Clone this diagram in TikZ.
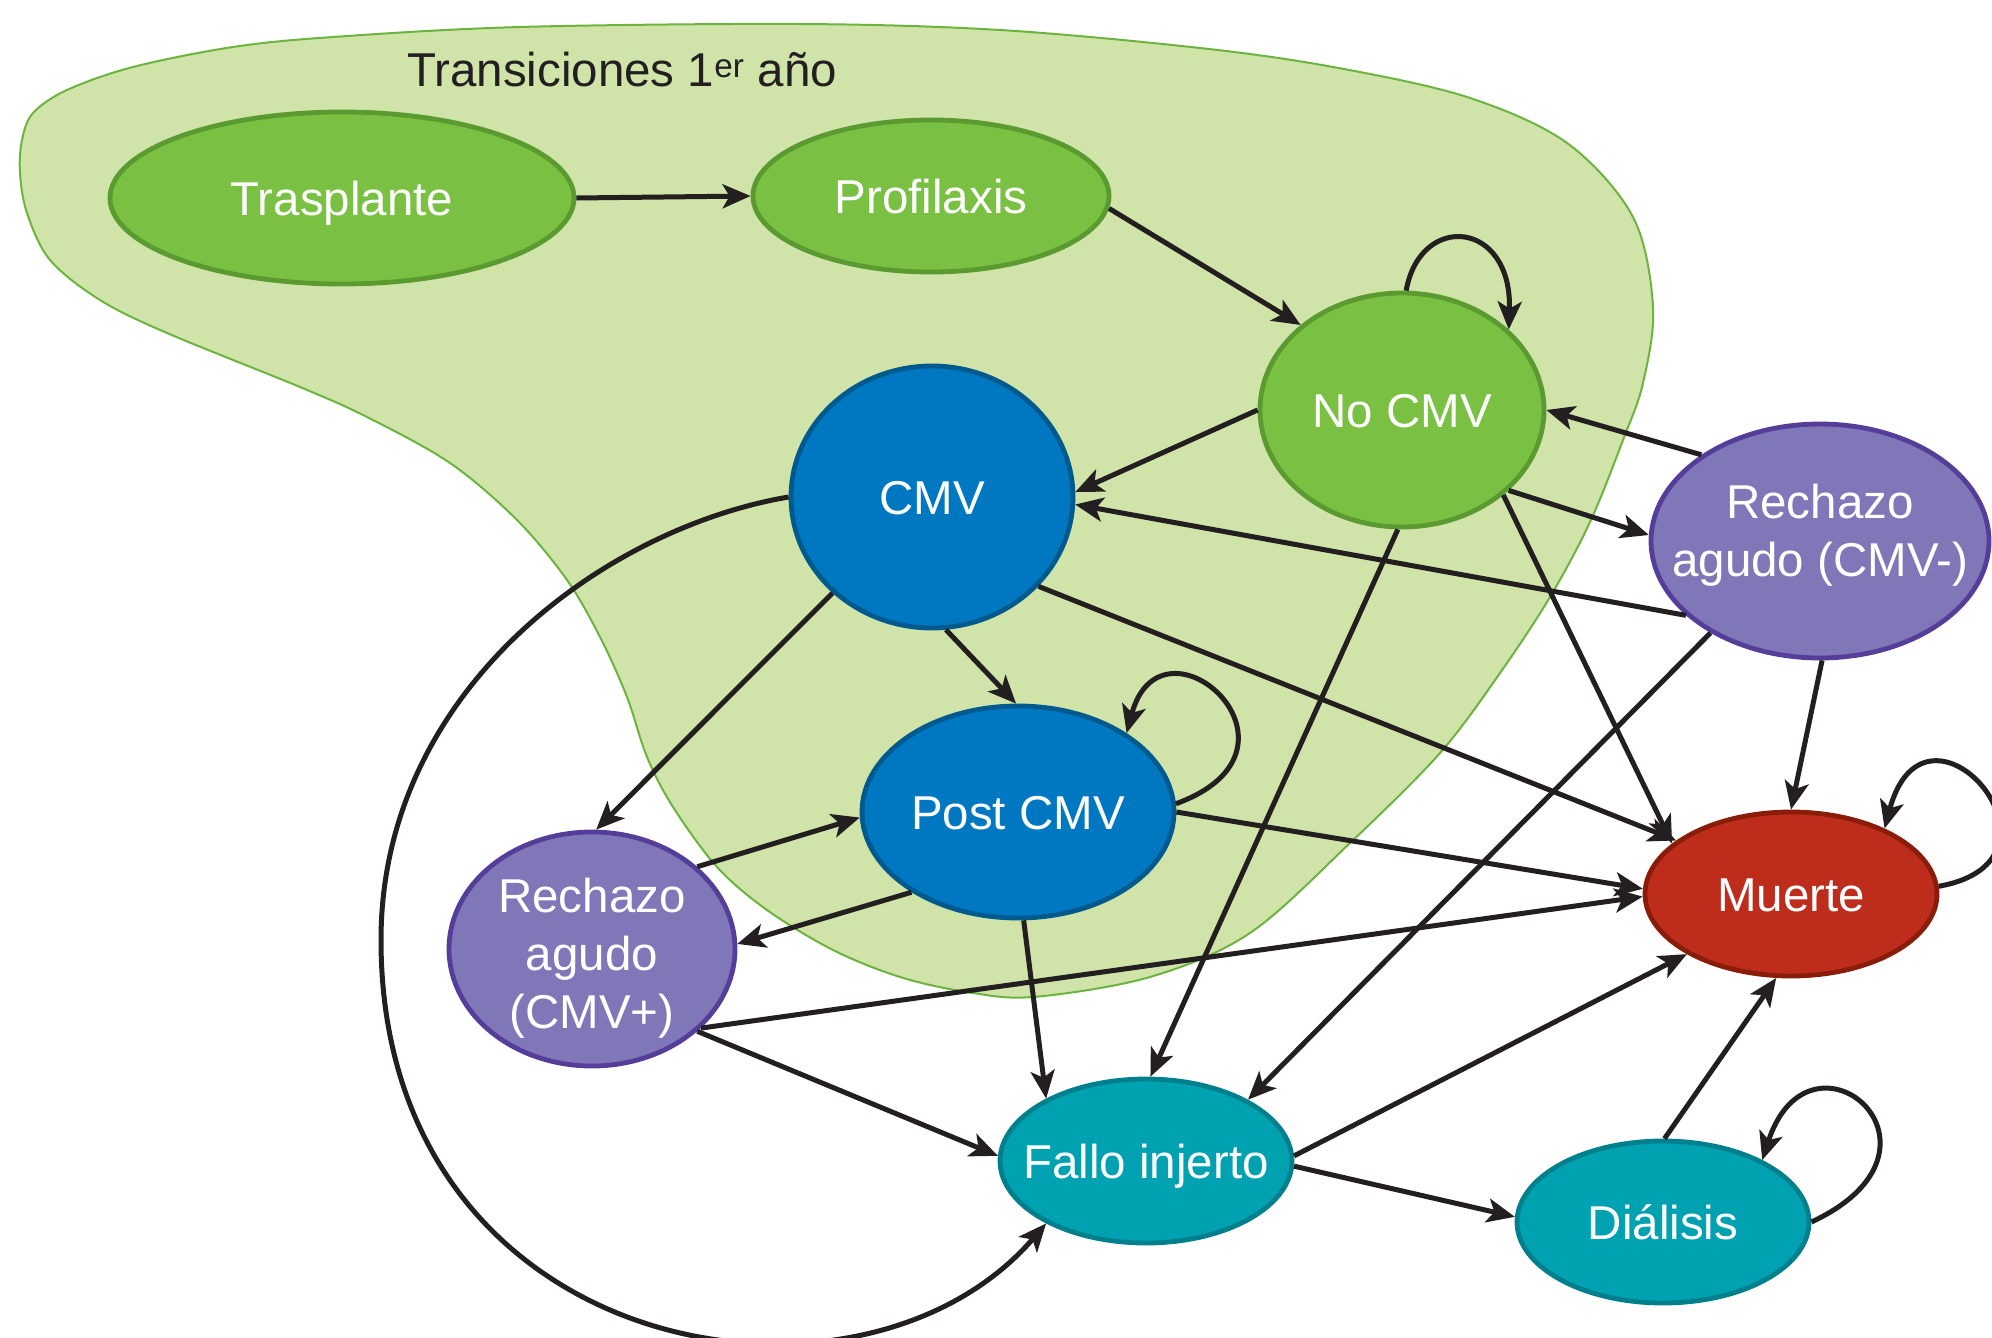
\documentclass[tikz,border=0pt]{standalone}
\usepackage{fontspec}
\setmainfont{Liberation Sans}
\usetikzlibrary{arrows.meta,shapes.geometric}
\definecolor{blobfill}{HTML}{D0E3A8}
\definecolor{blobline}{HTML}{6DB33F}
\definecolor{gfill}{HTML}{7AC143}
\definecolor{gline}{HTML}{5A9A30}
\definecolor{bfill}{HTML}{0078C1}
\definecolor{bline}{HTML}{005A8E}
\definecolor{pfill}{HTML}{7F77B7}
\definecolor{pline}{HTML}{553E99}
\definecolor{rfill}{HTML}{BE2D1B}
\definecolor{rline}{HTML}{8A1C0A}
\definecolor{tfill}{HTML}{00A1B0}
\definecolor{tline}{HTML}{00808C}
\definecolor{ink}{HTML}{231F20}
\begin{document}
\begin{tikzpicture}[x=1pt,y=-1pt,
  st/.style={ellipse, line width=4.8pt, inner sep=0pt},
  gst/.style={st, fill=gfill, draw=gline},
  bst/.style={st, fill=bfill, draw=bline},
  pst/.style={st, fill=pfill, draw=pline},
  rst/.style={st, fill=rfill, draw=rline},
  tst/.style={st, fill=tfill, draw=tline},
  lbl/.style={text=white, font=\fontsize{47.5}{58}\selectfont, inner sep=0pt, align=center},
  one/.style={lbl, text height=34pt, text depth=0pt},
  arr/.style={draw=ink, line width=5pt, -{Stealth[length=28pt,width=24pt,inset=7pt]}},
  blob/.style={fill=blobfill, draw=blobline, line width=2pt}
]
\useasboundingbox (0,0) rectangle (1992,1338);
\clip (0,0) rectangle (1992,1338);

% background region
\draw[blob] plot[smooth cycle, tension=0.55] coordinates {
 (22,140) (33,113) (67,90) (133,67) (233,47) (333,37) (520,27) (800,24) (1000,30)
 (1200,48) (1333,67) (1467,97) (1567,143) (1633,217) (1653,307) (1643,383) (1623,440)
 (1590,522) (1550,597) (1500,673) (1440,753) (1350,843) (1250,933) (1150,977)
 (1033,997) (967,992) (900,977) (833,950) (767,910) (717,867) (673,807) (647,757)
 (627,697) (600,637) (567,580) (517,520) (450,463) (367,417) (300,387) (167,333)
 (100,300) (50,260) (27,213) (20,173)};

\node[anchor=base west, text=ink, font=\fontsize{47.5}{58}\selectfont, inner sep=0pt]
  (title) at (407,87) {Transiciones 1\textsuperscript{er} año};

% states
\node[gst, minimum width=464pt, minimum height=172pt] (tr) at (342,198) {};
\node[gst, minimum width=356pt, minimum height=152pt] (pr) at (931,196) {};
\node[gst, minimum width=284pt, minimum height=234pt] (nc) at (1402,410) {};
\node[bst, minimum width=282pt, minimum height=262pt] (cmv) at (932,497) {};
\node[pst, minimum width=338pt, minimum height=234pt] (rm) at (1820,541) {};
\node[bst, minimum width=312pt, minimum height=212pt] (pc) at (1018,812) {};
\node[pst, minimum width=286pt, minimum height=234pt] (rp) at (592,949) {};
\node[rst, minimum width=292pt, minimum height=164pt] (mu) at (1791,894) {};
\node[tst, minimum width=292pt, minimum height=164pt] (fi) at (1146,1161) {};
\node[tst, minimum width=292pt, minimum height=162pt] (di) at (1663,1222) {};

\node[one] (trt) at (tr) {Trasplante};
\node[one] (prt) at (pr) {Profilaxis};
\node[one] (nct) at (nc) {No CMV};
\node[one] (cmvt) at (cmv) {CMV};
\node[lbl] (rmt) at ([yshift=6pt]rm.center) {Rechazo\\agudo (CMV-)};
\node[one] (pct) at (pc) {Post CMV};
\node[lbl] (rpt) at ([yshift=-9pt]rp.center) {Rechazo\\agudo\\(CMV+)};
\node[one] (mut) at (mu) {Muerte};
\node[one] (fit) at (fi) {Fallo injerto};
\node[one] (dit) at (di) {Diálisis};

\coordinate (lp) at (381,940);

% transitions
\draw[arr] (tr.0) -- (pr.180);
\draw[arr] (pr.-4) -- (nc.140);
\draw[arr] (nc.88) .. controls +(80:80pt) and +(88:110pt) .. (nc.37);
\draw[arr] (nc.180) -- (cmv.2);
\draw[arr] (rm.144) -- (nc.0);
\draw[arr] (nc.-37) -- (rm.178);
\draw[arr] (rm.-151) -- (cmv.-3);
\draw[arr] (nc.-92) -- (fi.87);
\draw[arr] (nc.-40) -- (mu.157);
\draw[arr] (rm.-140) -- (fi.31);
\draw[arr] (rm.-89) -- (mu.90);
\draw[arr] (mu.3) .. controls +(10:150pt) and +(75:160pt) .. (mu.35);
\draw[arr] (cmv.-84) -- (pc.91);
\draw[arr] (cmv.-136) -- (rp.88);
\draw[arr] (cmv.-40) -- (mu.155);
\draw[arr] (cmv.180) .. controls (605,528) and (381,690) .. (lp)
                     .. controls (381,1360) and (860,1440) .. (fi.-148);
\draw[arr] (pc.3) .. controls +(20:160pt) and +(75:135pt) .. (pc.36);
\draw[arr] (pc.0) -- (mu.178);
\draw[arr] (pc.-143) -- (rp.2);
\draw[arr] (rp.38) -- (pc.-178);
\draw[arr] (pc.-87) -- (fi.148);
\draw[arr] (rp.-36) -- (mu.181);
\draw[arr] (rp.-38) -- (fi.178);
\draw[arr] (fi.2) -- (mu.-150);
\draw[arr] (fi.-2) -- (di.178);
\draw[arr] (di.89) -- (mu.-100);
\draw[arr] (di.0) .. controls +(25:175pt) and +(72:155pt) .. (di.32);
\end{tikzpicture}
\end{document}
